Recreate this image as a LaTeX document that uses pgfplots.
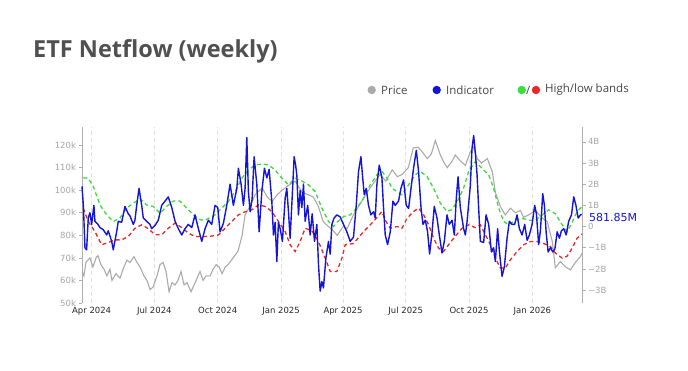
\documentclass[border=0pt]{standalone}
\usepackage{pgfplots}
\pgfplotsset{compat=1.18}
\usepackage{fontspec}
\setmainfont{Open Sans}
\newfontfamily\tickfont{DejaVu Sans}
\definecolor{pricegray}{RGB}{170,170,170}
\definecolor{indblue}{RGB}{20,20,215}
\definecolor{bandgreen}{RGB}{60,220,60}
\definecolor{bandred}{RGB}{230,40,40}
\definecolor{axgray}{RGB}{175,175,175}
\definecolor{ticktxt}{RGB}{165,165,165}
\definecolor{titlegray}{RGB}{80,80,80}
\definecolor{legtxt}{RGB}{70,70,70}
\begin{document}
\begin{tikzpicture}
\useasboundingbox (0,0) rectangle (688pt,371pt);
\pgfplotsset{
  base/.style={
    at={(82pt,68pt)}, anchor=south west, scale only axis,
    width=500pt, height=176pt, xmin=-14, xmax=712,
    axis line style={-, draw=axgray, line width=0.6pt},
    tick align=outside, major tick length=3.5pt,
    tick label style={font=\tickfont\fontsize{8.5}{10}\selectfont},
    y tick style={draw=axgray, line width=0.6pt},
  }
}
\begin{axis}[base,
  ymin=50, ymax=128,
  axis y line*=left, axis x line*=bottom,
  x axis line style={draw=none},
  x tick style={draw=none},
  xtick={0,91,183,275,365,456,548,640},
  xticklabels={Apr 2024,Jul 2024,Oct 2024,Jan 2025,Apr 2025,Jul 2025,Oct 2025,Jan 2026},
  x tick label style={text=black!85, yshift=2.5pt},
  xmajorgrids, major x grid style={dash pattern=on 4pt off 3pt, draw=black!12, line width=0.7pt},
  ytick={50,60,70,80,90,100,110,120},
  yticklabels={50k,60k,70k,80k,90k,100k,110k,120k},
  y tick label style={text=ticktxt, xshift=1pt},
]
\addplot[pricegray, line width=1.1pt] coordinates {
(-14,64)(-11.2,62)(-8.3,68)(-2.5,70)(1.9,66)(6.3,70)(9.2,71)(13.5,67)(17.9,65)(22.2,62)(26.6,65)(29.5,60)(35.3,63)(41.1,61)(46.9,66)(51.3,69)(55.7,68)(61.5,70.5)(65.8,68)(70.2,66)(76,62)(80.4,60)(84.7,56)(89.1,57)(94.9,62)(99.3,67)(103.6,68)(108,64)(112.4,55)(116.7,59)(121.1,58)(125.4,60)(129.8,64)(134.2,58)(138.5,59)(144.3,55)(148.7,58)(153.1,61)(157.4,64)(161.8,60)(166.1,62)(172,62)(176.3,65)(180.7,67)(185,66)(189.4,63)(194,66)(198.1,67)(205.4,70)(212.6,73)(218.5,80)(222.8,89)(230.1,93)(237.4,98)(247.6,101)(254.9,97)(262.1,95)(269.4,98)(276.7,100)(285.3,102)(295.5,104)(305.7,99)(314.5,98)(321.7,97)(329,93)(336.3,86)(343.5,84)(350.8,82)(356.6,80)(365.3,84)(371,83)(380,89)(390,94)(400,99)(409,103)(419,107)(427,104)(436.5,109)(443.8,106)(451,107)(459.8,110)(467,118.7)(474.3,119)(480,117)(487.4,114)(493.2,116)(499,122)(506.3,115.6)(512,112)(516.4,110)(523.7,113)(528,115.6)(535.3,113)(542.6,111)(549.9,117)(554.3,119)(560,114)(566,112)(574.6,114)(581.9,108)(586.2,99)(593.5,92.7)(600.7,89)(608,92)(615.3,90)(622.6,91)(627,88)(634.3,89)(644.3,91)(653,88)(661.7,86)(669,77)(673.3,65.6)(680.6,68.4)(687.9,66)(695.2,64.7)(702.5,68)(709.8,70.6)(712,72)
};
\end{axis}
\begin{axis}[base,
  ymin=-3.61, ymax=4.70,
  axis y line*=right, axis x line=none,
  ytick={-3,-2,-1,0,1,2,3,4},
  yticklabels={−3B,−2B,−1B,0,1B,2B,3B,4B},
  y tick label style={text=ticktxt, xshift=-1pt},
  clip=false,
]
\addplot[bandgreen, line width=1.3pt, dash pattern=on 4pt off 3pt] coordinates {
(-12.2,2.3)(-4.9,2.28)(2.3,1.9)(12.1,1.02)(21.8,0.55)(31.4,0.24)(41.1,0.4)(50.9,0.87)(60.5,1.1)(70.2,1.31)(79.9,1.02)(89.5,0.95)(99.3,0.63)(109,0.95)(118.6,1.21)(128.3,1.2)(138.1,0.87)(147.7,0.55)(157.4,0.32)(164.7,0.3)(179.2,0.55)(188.9,0.87)(198.5,1.18)(208.3,1.65)(218,2.28)(227.6,2.67)(237.4,2.91)(247.1,2.95)(256.7,2.91)(266.4,2.67)(276.2,2.28)(285.8,1.97)(295.5,2.28)(305.2,2.15)(314.8,1.97)(324.6,1.65)(334.3,0.87)(343.9,0.24)(351.2,0.0)(356.1,0.2)(365.7,0.47)(375.4,0.55)(385.2,0.87)(394.8,1.34)(404.5,1.97)(414.2,2.44)(421.5,2.6)(428.8,2.3)(436,1.81)(443.3,1.65)(450.6,1.5)(460.2,1.97)(469.9,2.44)(477.2,2.6)(486.9,2.36)(496.5,1.81)(506.3,1.1)(516,0.71)(523.3,0.8)(532.8,1.3)(540,1.81)(547.4,2.6)(557.1,3.07)(566.9,2.75)(576.5,2.44)(583.7,1.81)(591,0.87)(598.3,0.24)(605.5,0.08)(615.3,0.3)(625,0.39)(634.6,0.3)(644.3,0.3)(654.1,0.55)(663.7,0.79)(673.5,0.6)(683.2,0.08)(690.4,-0.24)(697.7,0.2)(704.9,0.71)(712,0.94)
};
\addplot[bandred, line width=1.3pt, dash pattern=on 4pt off 3pt] coordinates {
(-12.2,0.87)(-4.9,0.24)(4.8,-0.24)(14.5,-0.86)(24.1,-0.75)(33.9,-0.63)(43.6,-0.63)(53.2,-0.47)(62.9,-0.08)(72.7,0.08)(82.3,-0.1)(92,-0.39)(101.7,-0.39)(111.3,-0.08)(121.1,0.16)(130.8,-0.05)(140.4,-0.31)(150.1,-0.47)(159.9,-0.47)(169.5,-0.47)(184,-0.4)(193.8,-0.08)(203.5,0.24)(213.1,0.55)(222.8,0.7)(232.6,0.79)(242.2,1.02)(251.9,0.95)(261.6,0.71)(271.2,0.24)(281,-0.24)(288.2,-0.86)(295.5,-1.18)(302.8,-0.7)(310,-0.08)(319.8,-0.2)(329.4,-0.71)(339.1,-1.49)(346.4,-2.12)(356.1,-2.12)(363.4,-1.49)(368.2,-0.86)(380.2,-0.8)(394.8,-0.24)(409.3,0.24)(421.5,0.71)(426.3,0.3)(433.6,-0.08)(443.3,0.0)(450.6,-0.08)(457.9,0.39)(467.4,0.71)(474.7,0.87)(482,0.55)(489.3,0.08)(496.5,-0.55)(503.8,-1.02)(511,-1.18)(518.3,-0.86)(525.6,-0.55)(537.8,-0.08)(547.4,0.08)(557.1,-0.05)(564.4,0.08)(571.7,-0.39)(579,-0.86)(586.2,-1.49)(593.5,-1.96)(600.7,-1.96)(608,-1.57)(617.7,-1.18)(627.3,-0.86)(637,-0.71)(646.8,-0.71)(656.4,-0.8)(666.1,-0.94)(673.5,-1.26)(683.2,-1.49)(690.4,-1.4)(697.7,-1.02)(704.9,-0.55)(712,-0.35)
};
\addplot[indblue, line width=1.4pt, line join=round] coordinates {
(-14,1.9)(-12,1.0)(-9.7,-1.0)(-7.3,-1.1)(-4.9,0.4)(-2.5,0.65)(0,0.1)(3.3,1.0)(4.8,0.25)(9.2,0.1)(12.1,-0.05)(16.9,-0.15)(21.8,-0.4)(24.1,-0.2)(29.1,-0.7)(31.4,-1.1)(36.3,-0.25)(38.7,0.25)(43.6,0.2)(48.4,0.95)(53.2,0.6)(55.7,0.5)(60.5,0.1)(62.9,0.3)(65.4,1.0)(68.8,1.8)(72.7,1.0)(75,0.4)(79.9,0.25)(84.7,0.1)(87.2,-0.1)(92,0.05)(96.8,0.3)(101.7,1.0)(106.5,1.2)(111.3,1.4)(116.3,0.9)(121.1,0.25)(125.9,-0.1)(130.8,-0.4)(135.6,-0.1)(140.4,0.1)(145.4,-0.05)(150.1,0.55)(155,-0.1)(159.9,-0.7)(164.7,-0.1)(169.5,0.3)(174.4,0.1)(179.2,1.0)(183.1,0.9)(186.5,-0.25)(191.3,0.15)(196.2,1.0)(201,2.0)(205.8,1.0)(210.8,1.8)(213.1,2.75)(217,2.0)(220.4,1.0)(222.8,1.8)(225.3,4.2)(227.6,1.65)(230.1,0.7)(233,1.3)(235.9,3.3)(239.8,2.0)(243.2,-0.25)(247.1,1.65)(250.9,2.75)(254.4,2.3)(257.7,2.7)(261.6,1.2)(264,-0.4)(266.4,0.2)(268.9,-1.65)(271.2,0.2)(273.7,-0.1)(277,-0.7)(281,1.35)(283.4,1.8)(285.8,0.7)(288.2,-0.55)(291.6,1.65)(294,3.3)(296.2,2.9)(298,2.4)(300.3,0.55)(302.8,1.7)(305.2,0.9)(307.6,2.0)(310,0.25)(313.7,1.0)(317.3,-0.4)(320.2,0.6)(323.6,-0.7)(327,0.1)(329.4,-1.8)(331.8,-3.05)(334.3,-2.6)(336.6,-2.9)(340.1,-1.5)(343.9,-0.7)(346.4,-1.3)(348.8,0.1)(352,0.4)(356.1,0.55)(360.9,0.45)(365.7,0.1)(370.6,-0.25)(375.4,-0.7)(380.2,-0.5)(384.2,1.0)(387.5,2.6)(391,3.3)(393.3,2.4)(395.8,1.5)(398.7,1.8)(402,1.0)(405.5,0.55)(409.3,0.7)(411.8,0.4)(414.2,2.0)(417.6,2.9)(421.5,2.3)(423.8,0.9)(426.3,-0.4)(429.7,-0.85)(433.6,-0.25)(437.5,1.2)(440.8,1.0)(445.6,1.2)(449.1,1.8)(452.9,2.2)(456.8,1.0)(460.2,0.85)(463.7,1.8)(467.4,2.75)(471.4,3.6)(474.7,2.6)(478.2,0.9)(481.1,0.1)(484.5,0.3)(487.8,-0.25)(490.7,-1.3)(494.2,-0.3)(497.5,0.95)(501.5,0.4)(504.4,-0.3)(508.7,-1.25)(512.1,-0.7)(516,0.55)(519.3,0.1)(523.3,0.3)(526.6,-0.4)(529.5,1.35)(532,2.35)(535.3,0.9)(540.1,-0.1)(542.6,-0.4)(545,0.2)(549.9,1.95)(552.3,3.7)(554.7,4.3)(557.1,3.5)(559.6,2.45)(561.9,0.9)(564.4,-0.7)(569.2,-0.75)(572.7,0.55)(576.5,0.1)(580.4,-1.2)(583.7,-1.0)(586.2,-1.65)(589.5,-0.1)(592,-1.15)(595.9,-2.35)(599.3,-1.9)(603.2,-0.55)(606.5,0.25)(610.5,0.1)(614.2,0.1)(617.7,0.55)(621.1,-0.1)(625,-0.4)(628.8,0.1)(632.3,-0.65)(635.6,-0.4)(639.5,0.1)(643.3,1.0)(645.8,0.6)(649.1,-0.85)(651.6,-0.2)(655,1.55)(657.4,1.0)(659.9,-0.25)(662.8,-1.2)(666.1,-1.0)(669.5,-1.2)(672.7,-1.05)(675.9,-0.25)(679.2,-0.55)(682.1,-0.2)(685.5,-0.1)(689,-0.4)(692.7,0.25)(696.7,0.55)(700,1.4)(703.2,1.0)(706.4,0.4)(709.8,0.55)(711.5,0.58)
};
\node[anchor=west, text=indblue, font=\tickfont\fontsize{11}{13}\selectfont, inner sep=0pt] at (axis cs:712,0.58) [xshift=7pt, yshift=-3pt] {581.85M};
\end{axis}
% title
\node[anchor=base west, inner sep=0pt, text=titlegray, font=\fontsize{23.5}{28}\selectfont\bfseries] at (33pt,313.5pt) {ETF Netflow (weekly)};
% legend
\begin{scope}[every node/.style={anchor=west, inner sep=0pt, text=legtxt, font=\fontsize{11.5}{14}\selectfont}]
\fill[pricegray] (371.7pt,281pt) circle (4.2pt);
\node at (381pt,281pt) {Price};
\fill[indblue] (436.7pt,281pt) circle (4.2pt);
\node at (446pt,281pt) {Indicator};
\fill[bandgreen] (521.7pt,281pt) circle (4.2pt);
\node at (526pt,281pt) {/};
\fill[bandred] (536pt,281pt) circle (4.2pt);
\node at (545pt,281pt) {High/low bands};
\end{scope}
\end{tikzpicture}
\end{document}
